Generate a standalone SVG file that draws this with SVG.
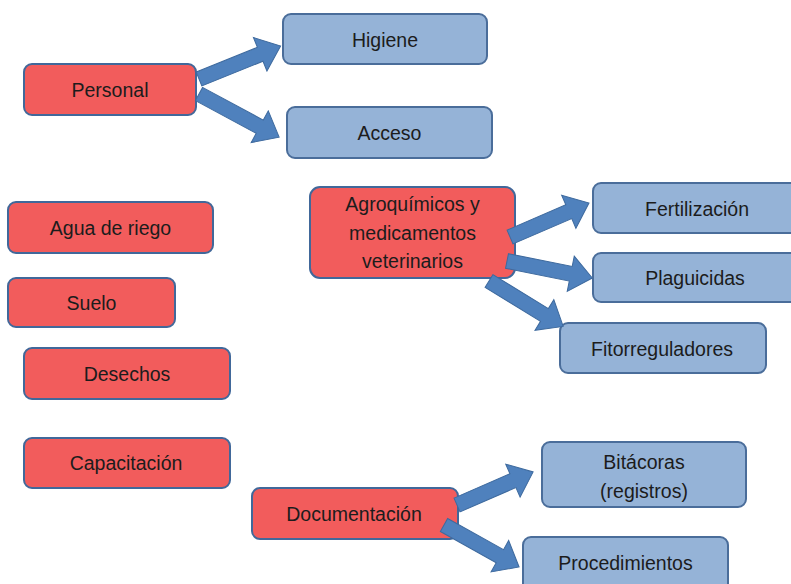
<svg xmlns="http://www.w3.org/2000/svg" width="791" height="584" viewBox="0 0 791 584">
  <style>
    .main rect { fill: #F25C5C; stroke: #41689A; stroke-width: 2; }
    .sub rect { fill: #95B3D7; stroke: #4A6D9A; stroke-width: 2; }
    text { font-family: "Liberation Sans", Arial, sans-serif; font-size: 19.5px; fill: #1c1c1c; text-anchor: middle; }
    .arrow { fill: #4F81BD; stroke: #3E6A9E; stroke-width: 1; }
  </style>
  <rect width="791" height="584" fill="#ffffff"/>

  <!-- category boxes (red) -->
  <g id="personal" class="main">
    <rect x="24" y="64" width="172" height="51" rx="8"/>
    <text x="110" y="97">Personal</text>
  </g>
  <g id="agua-riego" class="main">
    <rect x="8" y="202" width="205" height="51" rx="8"/>
    <text x="110.5" y="235">Agua de riego</text>
  </g>
  <g id="suelo" class="main">
    <rect x="8" y="278" width="167" height="49" rx="8"/>
    <text x="91.5" y="310">Suelo</text>
  </g>
  <g id="desechos" class="main">
    <rect x="24" y="348" width="206" height="51" rx="8"/>
    <text x="127" y="381">Desechos</text>
  </g>
  <g id="capacitacion" class="main">
    <rect x="24" y="438" width="206" height="50" rx="8"/>
    <text x="126" y="470">Capacitación</text>
  </g>
  <g id="agroquimicos" class="main">
    <rect x="310" y="187" width="205" height="91" rx="10"/>
    <text x="412.5" y="211">Agroquímicos y</text>
    <text x="412.5" y="239.5">medicamentos</text>
    <text x="412.5" y="268">veterinarios</text>
  </g>
  <g id="documentacion" class="main">
    <rect x="252" y="488" width="206" height="51" rx="8"/>
    <text x="354" y="521">Documentación</text>
  </g>

  <!-- detail boxes (blue) -->
  <g id="higiene" class="sub">
    <rect x="283" y="14" width="204" height="50" rx="8"/>
    <text x="385" y="46.5">Higiene</text>
  </g>
  <g id="acceso" class="sub">
    <rect x="287" y="107" width="205" height="51" rx="8"/>
    <text x="389.5" y="140">Acceso</text>
  </g>
  <g id="fertilizacion" class="sub">
    <rect x="593" y="183" width="210" height="50" rx="8"/>
    <text x="697" y="215.5">Fertilización</text>
  </g>
  <g id="plaguicidas" class="sub">
    <rect x="593" y="253" width="210" height="49" rx="8"/>
    <text x="695" y="285">Plaguicidas</text>
  </g>
  <g id="fitorreguladores" class="sub">
    <rect x="560" y="323" width="206" height="50" rx="8"/>
    <text x="662" y="355.5">Fitorreguladores</text>
  </g>
  <g id="bitacoras" class="sub">
    <rect x="542" y="442" width="204" height="65" rx="8"/>
    <text x="644" y="468.5">Bitácoras</text>
    <text x="644" y="497.5">(registros)</text>
  </g>
  <g id="procedimientos" class="sub">
    <rect x="523" y="537" width="205" height="60" rx="8"/>
    <text x="625.5" y="570">Procedimientos</text>
  </g>

  <!-- block arrows, each drawn along +x then placed -->
  <g id="connectors">
    <path class="arrow" d="M0,-7.5 H66 V-18 L88,0 L66,18 V7.5 H0 Z" transform="translate(199,79) rotate(-22)"/>
    <path class="arrow" d="M0,-7.5 H69 V-18 L91,0 L69,18 V7.5 H0 Z" transform="translate(199,94) rotate(28.3)"/>
    <path class="arrow" d="M0,-7.5 H64 V-18 L86,0 L64,18 V7.5 H0 Z" transform="translate(510,237) rotate(-23.3)"/>
    <path class="arrow" d="M0,-7.5 H65 V-18 L87,0 L65,18 V7.5 H0 Z" transform="translate(507,261) rotate(11.3)"/>
    <path class="arrow" d="M0,-7.5 H65 V-18 L87,0 L65,18 V7.5 H0 Z" transform="translate(489,281) rotate(31.5)"/>
    <path class="arrow" d="M0,-7.5 H61 V-18 L83,0 L61,18 V7.5 H0 Z" transform="translate(457,505) rotate(-23.5)"/>
    <path class="arrow" d="M0,-7.5 H64 V-18 L86,0 L64,18 V7.5 H0 Z" transform="translate(444,525) rotate(29.2)"/>
  </g>
</svg>
